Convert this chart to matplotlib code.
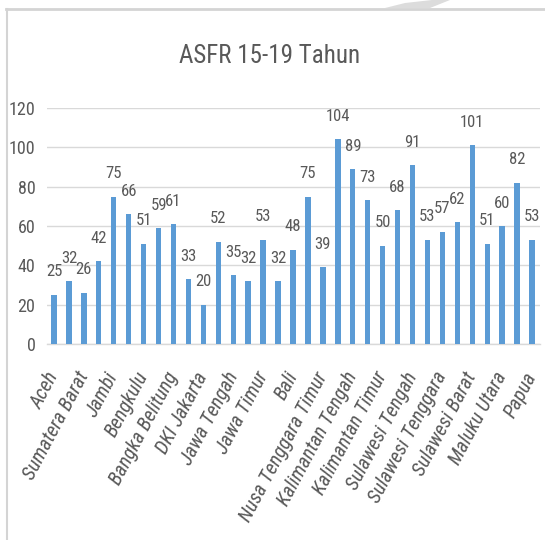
import matplotlib
matplotlib.use("Agg")
import matplotlib.pyplot as plt
from matplotlib import font_manager
from matplotlib.patches import Polygon

provinces = [
    "Aceh", "Sumatera Utara", "Sumatera Barat", "Riau", "Jambi",
    "Sumatera Selatan", "Bengkulu", "Lampung", "Bangka Belitung",
    "Kepulauan Riau", "DKI Jakarta", "Jawa Barat", "Jawa Tengah",
    "DI Yogyakarta", "Jawa Timur", "Banten", "Bali",
    "Nusa Tenggara Barat", "Nusa Tenggara Timur", "Kalimantan Barat",
    "Kalimantan Tengah", "Kalimantan Selatan", "Kalimantan Timur",
    "Sulawesi Utara", "Sulawesi Tengah", "Sulawesi Selatan",
    "Sulawesi Tenggara", "Gorontalo", "Sulawesi Barat", "Maluku",
    "Maluku Utara", "Papua Barat", "Papua",
]
asfr = [25, 32, 26, 42, 75, 66, 51, 59, 61, 33, 20, 52, 35, 32, 53, 32, 48,
        75, 39, 104, 89, 73, 50, 68, 91, 53, 57, 62, 101, 51, 60, 82, 53]
y_ticks = [0, 20, 40, 60, 80, 100, 120]
title = "ASFR 15-19 Tahun"

# pick a narrow face if one is installed
fonts = font_manager.fontManager.ttflist
available = {f.name for f in fonts}
italic_available = {f.name for f in fonts if f.style in ("italic", "oblique")}
narrow = ["Liberation Sans Narrow", "Roboto Condensed", "Open Sans Condensed",
          "Liberation Sans", "Lato"]
family = ["DejaVu Sans"]
for cand in narrow:
    if cand in available:
        family = [cand, "DejaVu Sans"]
        break
label_family = family
for cand in narrow:
    if cand in italic_available:
        label_family = [cand, "DejaVu Sans"]
        break
plt.rcParams["font.family"] = family

text_col = "#595959"
bar_col = "#5b9bd5"
grid_col = "#d9d9d9"

fig = plt.figure(figsize=(5.45, 5.40), dpi=100)
ax = fig.add_axes([46.5 / 545, 1 - 344 / 540, 493 / 545, 236 / 540])

x = list(range(len(asfr)))
ax.bar(x, asfr, width=0.36, color=bar_col, zorder=3)
ax.set_xlim(-0.5, len(asfr) - 0.5)
ax.set_ylim(0, 120)
ax.set_yticks(y_ticks)
ax.yaxis.grid(True, color=grid_col, linewidth=1.0, zorder=0)
ax.tick_params(axis="y", length=0, pad=8, labelsize=13, labelcolor=text_col)
for s in ["top", "right", "left"]:
    ax.spines[s].set_visible(False)
ax.spines["bottom"].set_color(grid_col)
ax.spines["bottom"].set_linewidth(1.0)

ax.set_xticks(x[::2])
ax.set_xticklabels(provinces[::2], rotation=62, ha="right", va="center",
                   rotation_mode="anchor", style="italic", fontsize=14.5,
                   color=text_col, family=label_family)
ax.tick_params(axis="x", length=0, pad=21)

for xi, v in zip(x, asfr):
    ax.annotate(str(v), (xi, v), xytext=(0, 16.5), textcoords="offset points",
                ha="center", va="center", fontsize=12, color=text_col)

fig.text(0.495, 1 - 56 / 540, title, ha="center", va="center",
         fontsize=18, color=text_col)

# outer chart border
fig.add_artist(plt.Line2D([6 / 545, 1], [1 - 9 / 540, 1 - 9 / 540],
                          transform=fig.transFigure, color="#d4d4d4", lw=2))
fig.add_artist(plt.Line2D([6.5 / 545, 6.5 / 545], [0, 1 - 9 / 540],
                          transform=fig.transFigure, color="#d4d4d4", lw=1.5))
fig.add_artist(Polygon([[385 / 545, 1 - 8 / 540], [405 / 545, 1 - 3 / 540],
                        [432 / 545, 1], [450 / 545, 1], [430 / 545, 1 - 8 / 540]],
                       closed=True, transform=fig.transFigure,
                       facecolor="#dcdcdc", edgecolor="none"))

fig.savefig("out.png", dpi=100, facecolor="white")
